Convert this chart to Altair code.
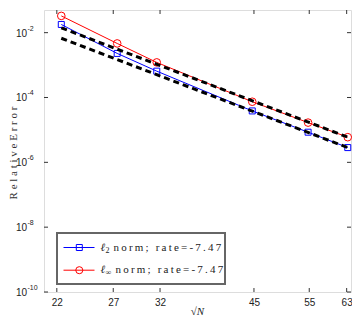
import altair as alt
import pandas as pd

# ---- data ----
sqrtN = [22.36, 27.39, 31.62, 44.72, 54.77, 63.25]
err_l2 = [1.79e-2, 2.29e-3, 6.5e-4, 3.85e-5, 8.5e-6, 2.85e-6]
err_linf = [3.29e-2, 4.65e-3, 1.21e-3, 7.4e-5, 1.68e-5, 5.96e-6]
ref_x = [22.36, 63.25]
ref_upper = [1.41e-2, 5.96e-6]
ref_lower = [6.73e-3, 2.85e-6]
x_ticks = [22, 27, 32, 45, 55, 63]
y_ticks = [1e-2, 1e-4, 1e-6, 1e-8, 1e-10]
y_exp = ["-2", "-4", "-6", "-8", "-10"]
legend_subs = ["2", "\u221e"]
legend_rest = "norm; rate=-7.47"
legend_colors = ["#0000ff", "#ff0000"]
legend_shapes = ["square", "circle"]
y_title = "Relative Error"
x_title = "\u221aN"

W, H = 307, 282
xscale = alt.Scale(type="log", domain=[21, 64], nice=False)
yscale = alt.Scale(type="log", domain=[1e-10, 0.05], nice=False)


def X(field="x"):
    return alt.X(f"{field}:Q", scale=xscale,
                 axis=alt.Axis(values=x_ticks, format="d", ticks=False, domain=False,
                               grid=False, labelFontSize=10, labelFont="Liberation Sans",
                               labelColor="#222", labelPadding=5, title=None,
                               labelFlush=False))


def Y(field="y"):
    return alt.Y(f"{field}:Q", scale=yscale, axis=None)


def spaced(s, sep="\u2009"):
    return sep.join(s)


df_l2 = pd.DataFrame({"x": sqrtN, "y": err_l2})
df_linf = pd.DataFrame({"x": sqrtN, "y": err_linf})
df_ref = pd.DataFrame({
    "x": ref_x + ref_x,
    "y": ref_upper + ref_lower,
    "which": ["upper"] * 2 + ["lower"] * 2,
})
df_xt = pd.DataFrame({"x": x_ticks})
df_yt = pd.DataFrame({"y": y_ticks, "exp": y_exp, "base": ["10"] * len(y_ticks)})

layers = []
# series lines and markers
for df, col, shape, size in [(df_l2, "#0000ff", "square", 36), (df_linf, "#ff0000", "circle", 58)]:
    layers.append(alt.Chart(df).mark_line(color=col, strokeWidth=1).encode(x=X(), y=Y()))
    layers.append(alt.Chart(df).mark_point(shape=shape, size=size, filled=False,
                                           color=col, strokeWidth=1, opacity=1).encode(x=X(), y=Y()))
# dashed reference lines
layers.append(alt.Chart(df_ref).mark_line(color="black", strokeWidth=3, strokeDash=[6, 4]).encode(
    x=X(), y=Y(), detail="which:N"))

# inward ticks
layers.append(alt.Chart(df_xt).mark_rule(color="#333", strokeWidth=1).encode(
    x=X(), y=alt.value(H), y2=alt.value(H - 4)))
layers.append(alt.Chart(df_xt).mark_rule(color="#333", strokeWidth=1).encode(
    x=X(), y=alt.value(0), y2=alt.value(4)))
layers.append(alt.Chart(df_yt).mark_rule(color="#333", strokeWidth=1).encode(
    y=Y(), x=alt.value(0), x2=alt.value(4)))
layers.append(alt.Chart(df_yt).mark_rule(color="#333", strokeWidth=1).encode(
    y=Y(), x=alt.value(W), x2=alt.value(W - 4)))

# y tick labels 10^k
layers.append(alt.Chart(df_yt).mark_text(align="right", baseline="middle", fontSize=10,
                                         font="Liberation Sans", color="#222", dy=1).encode(
    y=Y(), x=alt.value(-17), text="base:N"))
layers.append(alt.Chart(df_yt).mark_text(align="left", baseline="middle", fontSize=7,
                                         font="Liberation Sans", color="#222", dy=-4).encode(
    y=Y(), x=alt.value(-16.5), text="exp:N"))

one = alt.Data(values=[{}])
# axis titles
ytxt = "   ".join(spaced(w, " ") for w in y_title.split(" "))
layers.append(alt.Chart(one).mark_text(text=ytxt,
                                       angle=270, fontSize=11, font="Liberation Serif",
                                       color="#333", baseline="middle", align="center").encode(
    x=alt.value(-30.5), y=alt.value(143)))
layers.append(alt.Chart(one).mark_text(text=x_title, fontSize=11, font="Liberation Serif",
                                       fontStyle="italic", color="#222",
                                       baseline="bottom", align="center").encode(
    x=alt.value(W / 2), y=alt.value(306.5)))

# legend box
layers.append(alt.Chart(one).mark_rect(fill="white", stroke="#666", strokeWidth=2).encode(
    x=alt.value(13), x2=alt.value(181), y=alt.value(223), y2=alt.value(274)))
rest_x = [69.5, 71.5]
for i, (sub, col, shape) in enumerate(zip(legend_subs, legend_colors, legend_shapes)):
    yy = 237.5 + i * 22.7
    layers.append(alt.Chart(one).mark_rule(color=col, strokeWidth=1).encode(
        x=alt.value(19.5), x2=alt.value(50.5), y=alt.value(yy)))
    layers.append(alt.Chart(one).mark_point(shape=shape, size=36 if shape == "square" else 50,
                                            filled=False, color=col, strokeWidth=1,
                                            opacity=1).encode(
        x=alt.value(35.3), y=alt.value(yy)))
    layers.append(alt.Chart(one).mark_text(text="\u2113", fontSize=11, font="Liberation Serif",
                                           fontStyle="italic", color="#222", align="left",
                                           baseline="middle").encode(
        x=alt.value(56.5), y=alt.value(yy)))
    layers.append(alt.Chart(one).mark_text(text=sub, fontSize=8, font="Liberation Serif",
                                           color="#222", align="left",
                                           baseline="middle", dy=3).encode(
        x=alt.value(61.5), y=alt.value(yy)))
    layers.append(alt.Chart(one).mark_text(text=spaced(legend_rest), fontSize=11,
                                           font="Liberation Serif", color="#222", align="left",
                                           baseline="middle").encode(
        x=alt.value(rest_x[i]), y=alt.value(yy)))

chart = alt.layer(*layers).properties(
    width=W, height=H,
    autosize=alt.AutoSizeParams(type="none"),
    padding={"left": 36, "top": 2, "right": 1, "bottom": 25},
).configure_view(stroke="#333", strokeWidth=1).configure(background="white")

chart.save("out.html", embed_options={"renderer": "svg", "actions": False})
